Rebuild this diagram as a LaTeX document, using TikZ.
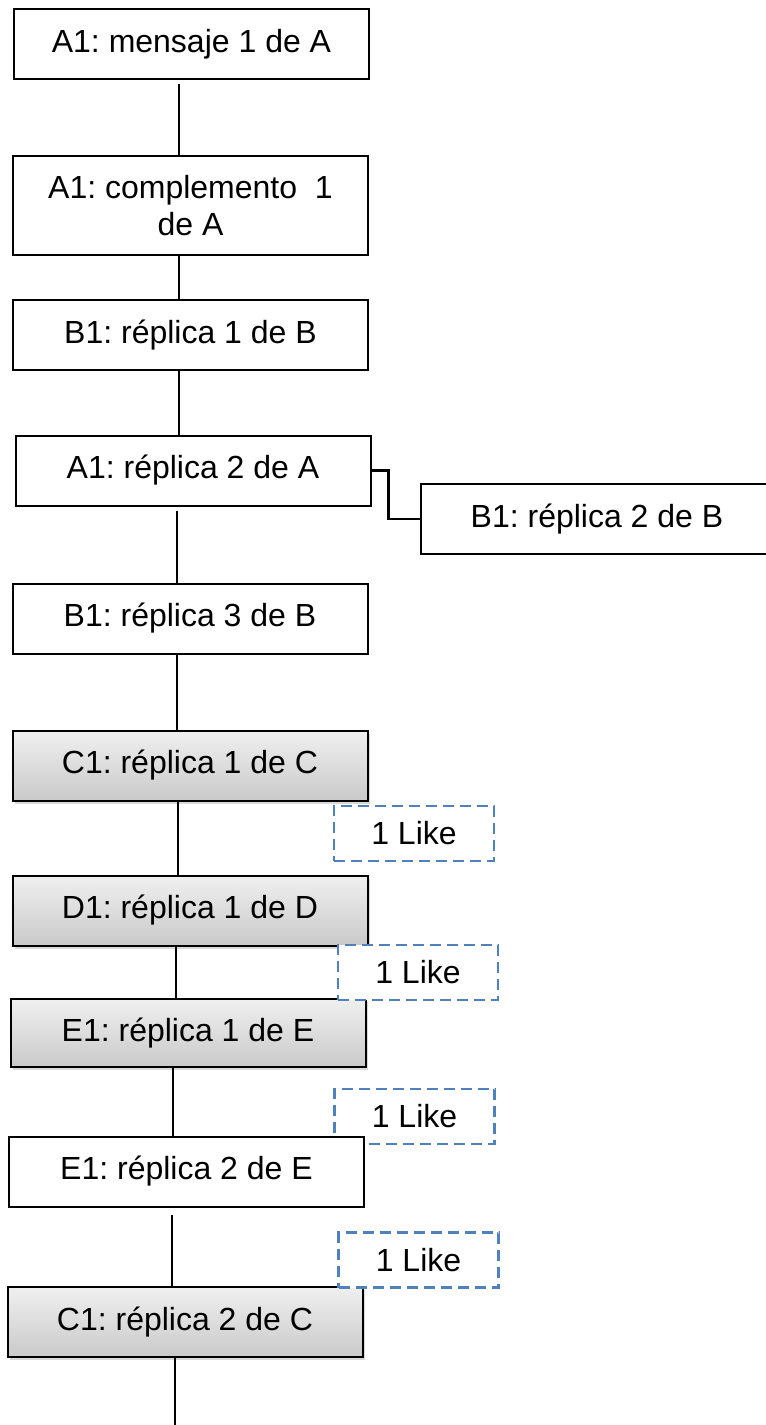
\documentclass[tikz,border=0pt]{standalone}
\usepackage{fontspec}
\setmainfont{Liberation Sans}
\usetikzlibrary{shadows}
\frenchspacing
\definecolor{likeblue}{HTML}{4F81BD}
\tikzset{
  msg/.style={draw, line width=2pt, fill=white, minimum width=355pt, minimum height=70pt,
    inner sep=0pt, align=center, font=\fontsize{32}{37}\selectfont},
  resp/.style={msg, top color=gray!12, bottom color=gray!42,
    drop shadow={shadow xshift=2pt, shadow yshift=-3pt, opacity=0.3}},
  like/.style={draw=likeblue, line width=2.5pt, dash pattern=on 11pt off 6pt, fill=white,
    minimum width=160pt, minimum height=55pt, inner sep=0pt, font=\fontsize{32}{37}\selectfont},
  conn/.style={line width=1.4pt}
}
\begin{document}
\begin{tikzpicture}[x=1pt,y=-1pt]
\useasboundingbox (0,0) rectangle (766,1425);
\node[msg] (m1) at (191.5,44) {A1: mensaje 1 de A};
\node[msg, minimum height=99pt] (m2) at (190.5,205.5) {A1: complemento~~1\\de A};
\node[msg] (m3) at (190.5,335) {B1: réplica 1 de B};
\node[msg] (m4) at (193,470.5) {A1: réplica 2 de A};
\node[msg, minimum width=352pt] (m5) at (597,519) {B1: réplica 2 de B};
\node[msg] (m6) at (190,618.5) {B1: réplica 3 de B};
\node[resp] (c1) at (190,765.5) {C1: réplica 1 de C};
\node[resp] (d1) at (190,910.5) {D1: réplica 1 de D};
\node[resp, minimum height=68pt] (e1) at (188,1033) {E1: réplica 1 de E};
\node[like] (l1) at (414,833.5) {1 Like};
\node[like] (l2) at (418,972.5) {1 Like};
\node[like] (l3) at (414.5,1116.5) {1 Like};
\node[msg] (e2) at (186.5,1171.5) {E1: réplica 2 de E};
\node[resp] (c2) at (185,1322) {C1: réplica 2 de C};
\node[like] (l4) at (418.5,1260) {1 Like};
\coordinate (end) at (175,1425);
\foreach \a/\b/\x/\g in {m1/m2/179/4,m2/m3/179/0,m3/m4/179/0,m4/m6/177/4,m6/c1/177/0,c1/d1/178/0,d1/e1/176/0,e1/e2/173/0,e2/c2/172/7} {
  \draw[conn, shorten <=\g pt] (\a.south -| \x,0) -- (\b.north -| \x,0);
}
\draw[conn] (c2.south -| end) -- (end);
\draw[line width=2.2pt] (m4.east) -- ++(17,0) |- (m5.west);
\end{tikzpicture}
\end{document}
